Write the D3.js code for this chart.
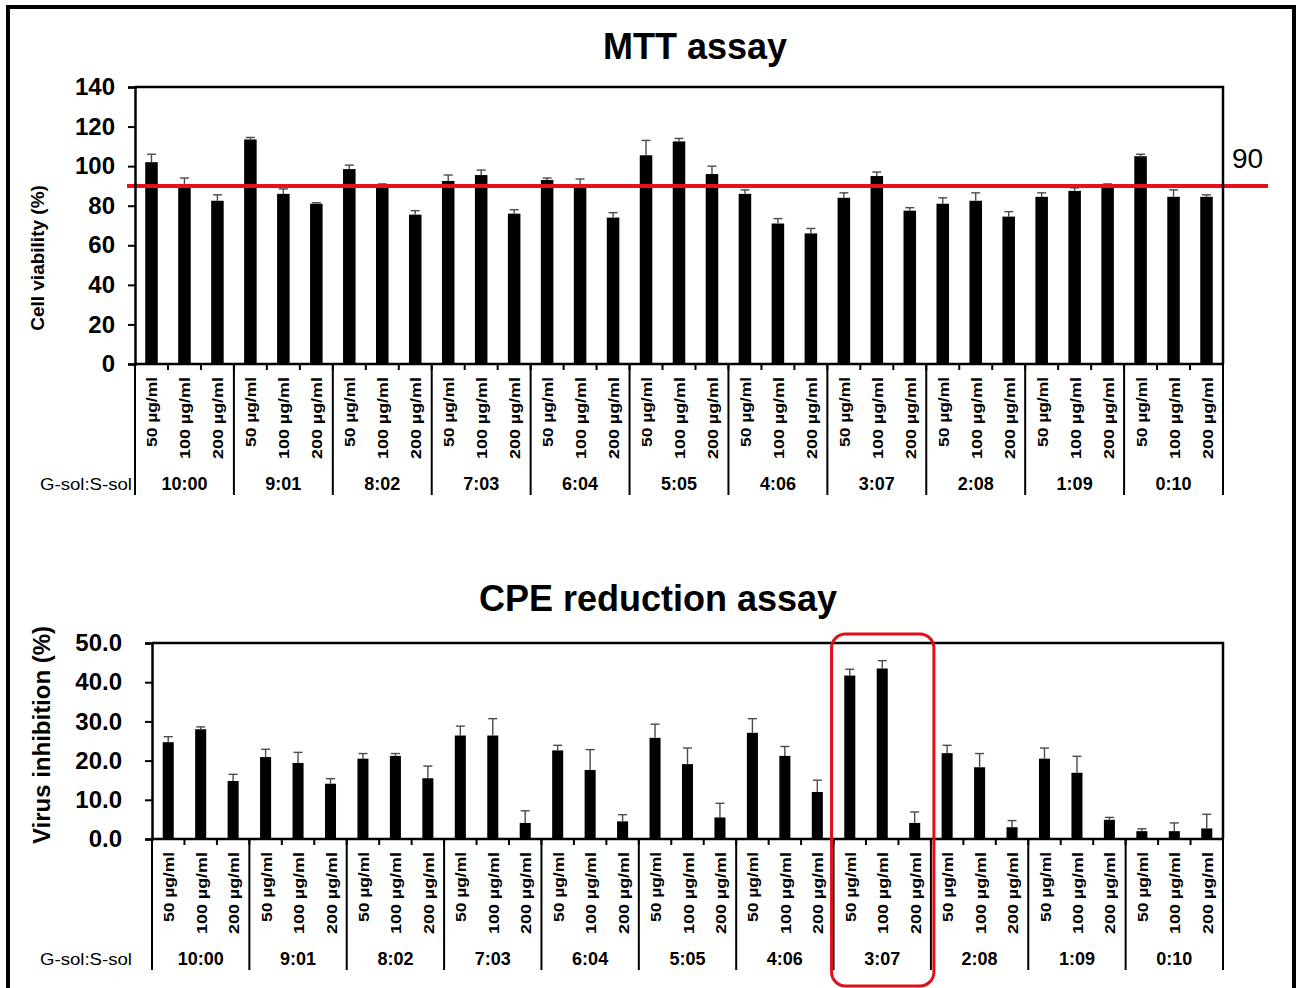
<!DOCTYPE html>
<html>
<head>
<meta charset="utf-8">
<script src="https://cdn.jsdelivr.net/npm/d3@7"></script>
<style>
  html, body { margin: 0; padding: 0; background: #fff; }
  svg { display: block; }
  text { font-family: "Liberation Sans", Arial, sans-serif; fill: #000; }
</style>
</head>
<body>
<svg id="chart" width="1300" height="988"></svg>
<script>
// G-sol : S-sol mixing ratios, three doses each
const ratios = ["10:00", "9:01", "8:02", "7:03", "6:04", "5:05", "4:06", "3:07", "2:08", "1:09", "0:10"];
const doses = ["50 µg/ml", "100 µg/ml", "200 µg/ml"];

// MTT assay: cell viability (%) mean and upper error
const mttMean = [102, 91, 82.5, 113.5, 86, 81, 98.5, 90, 75.5, 92.5, 95.5, 76, 93, 90.5, 74,
                 105.5, 112.5, 96, 86, 71, 66, 84, 95, 77.5, 81, 82.5, 74.5, 84.5, 87.5, 90.5,
                 105, 84.5, 84.5];
const mttErr  = [4, 3, 3, 1, 2.5, 0.5, 2, 1, 2, 3, 2.5, 2, 1, 3, 2.5,
                 7.5, 1.5, 4, 2, 2.5, 2.5, 2.5, 2, 1.5, 3, 4, 2.5, 2, 1.5, 0.5,
                 1, 3.5, 1];
const mttTicks = [0, 20, 40, 60, 80, 100, 120, 140];
const viabilityCutoff = 90;

// CPE reduction assay: virus inhibition (%) mean and upper error
const cpeMean = [24.7, 28.0, 14.8, 20.9, 19.4, 14.1, 20.5, 21.2, 15.5, 26.4, 26.4, 4.1, 22.6, 17.6, 4.5,
                 25.8, 19.1, 5.5, 27.1, 21.2, 12.0, 41.7, 43.5, 4.1, 21.9, 18.3, 3.0, 20.5, 16.9, 4.9,
                 2.0, 2.0, 2.7];
const cpeErr  = [1.4, 0.6, 1.7, 2.0, 2.7, 1.3, 1.3, 0.6, 3.1, 2.4, 4.3, 3.1, 1.3, 5.2, 1.7,
                 3.5, 4.1, 3.6, 3.6, 2.4, 3.0, 1.6, 2.0, 2.8, 2.0, 3.5, 1.7, 2.7, 4.2, 0.6,
                 0.6, 2.1, 3.6];
const cpeTicks = [0, 10, 20, 30, 40, 50];
const highlightRatio = "3:07";

const svg = d3.select("#chart");

// outer frame
svg.append("rect")
  .attr("x", 8).attr("y", 7).attr("width", 1286).attr("height", 1010)
  .attr("fill", "none").attr("stroke", "#000").attr("stroke-width", 4);

function drawPanel(p) {
  const g = svg.append("g");
  const cats = d3.range(p.mean.length);
  const x = d3.scaleBand().domain(cats).range([p.x0, p.x1])
    .paddingInner(p.pad).paddingOuter(p.pad / 2);
  const step = x.step();
  const y = d3.scaleLinear().domain(p.domain).range([p.yBase, p.yTop]);

  // title
  g.append("text")
    .attr("x", p.titleX).attr("y", p.titleY)
    .attr("text-anchor", "middle")
    .attr("font-size", 36).attr("font-weight", "bold")
    .text(p.title);

  // y axis title
  g.append("text")
    .attr("transform", `translate(${p.yTitleX},${p.yTitleY}) rotate(-90)`)
    .attr("text-anchor", "middle").attr("dominant-baseline", "central")
    .attr("font-size", p.yTitleSize).attr("font-weight", "bold")
    .text(p.yTitle);

  // bars
  g.append("g").selectAll("rect").data(cats).join("rect")
    .attr("x", i => x(i))
    .attr("y", i => y(p.mean[i]))
    .attr("width", x.bandwidth())
    .attr("height", i => p.yBase - y(p.mean[i]))
    .attr("fill", "#000");

  // upper error bars
  const eb = g.append("g").attr("stroke", "#4a4a4a").attr("stroke-width", 1.4);
  cats.forEach(i => {
    const cx = x(i) + x.bandwidth() / 2;
    const yt = y(p.mean[i] + p.err[i]);
    eb.append("line").attr("x1", cx).attr("x2", cx).attr("y1", y(p.mean[i])).attr("y2", yt);
    eb.append("line").attr("x1", cx - 4.5).attr("x2", cx + 4.5).attr("y1", yt).attr("y2", yt);
  });

  // threshold line
  if (p.cutoff !== undefined) {
    const yc = y(p.cutoff);
    g.append("line")
      .attr("x1", p.x0 - 8).attr("x2", p.x1 + 45)
      .attr("y1", yc).attr("y2", yc)
      .attr("stroke", "#e8101a").attr("stroke-width", 4);
    g.append("text")
      .attr("x", p.x1 + 9).attr("y", yc - 18)
      .attr("font-size", 28)
      .text(p.cutoff);
  }

  // plot frame (top and right borders)
  g.append("path")
    .attr("d", `M${p.x0},${p.yTop}H${p.x1}V${p.yBase}`)
    .attr("fill", "none").attr("stroke", "#000").attr("stroke-width", 2.5);

  // y axis
  const ya = g.append("g").attr("transform", `translate(${p.x0},0)`)
    .call(d3.axisLeft(y).tickValues(p.ticks).tickSize(7).tickPadding(p.tickPad)
      .tickFormat(p.fmt));
  ya.select(".domain").attr("stroke-width", 2.5);
  ya.selectAll(".tick line").attr("stroke-width", 2);
  ya.selectAll(".tick text")
    .attr("font-family", "Liberation Sans, Arial, sans-serif")
    .attr("font-size", 24).attr("font-weight", "bold").attr("fill", "#000");

  // category axis line
  g.append("line")
    .attr("x1", p.x0).attr("x2", p.x1).attr("y1", p.yBase).attr("y2", p.yBase)
    .attr("stroke", "#000").attr("stroke-width", 2.5);

  // tick marks at category boundaries
  g.append("g").selectAll("line").data(d3.range(p.mean.length + 1)).join("line")
    .attr("x1", i => p.x0 + i * step).attr("x2", i => p.x0 + i * step)
    .attr("y1", p.yBase).attr("y2", p.yBase + 6)
    .attr("stroke", "#000").attr("stroke-width", 2);

  // group separators
  g.append("g").selectAll("line").data(d3.range(ratios.length + 1)).join("line")
    .attr("x1", k => p.x0 + k * doses.length * step).attr("x2", k => p.x0 + k * doses.length * step)
    .attr("y1", p.yBase).attr("y2", p.yBase + 131)
    .attr("stroke", "#000").attr("stroke-width", 2);

  // dose labels (rotated)
  g.append("g").selectAll("text").data(cats).join("text")
    .attr("transform", i => `translate(${x(i) + x.bandwidth() / 2 + 1},${p.yBase + 13}) rotate(-90)`)
    .attr("text-anchor", "end").attr("dominant-baseline", "central")
    .attr("font-size", 14.5).attr("font-weight", "bold")
    .attr("textLength", i => (i % 3 === 0 ? 70 : 82))
    .attr("lengthAdjust", "spacingAndGlyphs")
    .text(i => doses[i % 3]);

  // ratio labels
  g.append("g").selectAll("text").data(ratios).join("text")
    .attr("x", (r, k) => p.x0 + (k + 0.5) * doses.length * step)
    .attr("y", p.yBase + 126)
    .attr("text-anchor", "middle")
    .attr("font-size", 18).attr("font-weight", "bold")
    .text(r => r);

  g.append("text")
    .attr("x", 40).attr("y", p.yBase + 126)
    .attr("font-size", 16)
    .attr("textLength", 92).attr("lengthAdjust", "spacingAndGlyphs")
    .text("G-sol:S-sol");

  // highlighted ratio group
  if (p.highlight) {
    const k = ratios.indexOf(p.highlight);
    const gx0 = p.x0 + k * doses.length * step;
    const gx1 = gx0 + doses.length * step;
    g.append("rect")
      .attr("x", gx0 - 2).attr("y", p.yTop - 9)
      .attr("width", gx1 - gx0 + 5).attr("height", 986 - (p.yTop - 9))
      .attr("rx", 14).attr("ry", 14)
      .attr("fill", "none").attr("stroke", "#e0101a").attr("stroke-width", 3);
  }
}

drawPanel({
  title: "MTT assay", titleX: 695, titleY: 59,
  yTitle: "Cell viability (%)", yTitleX: 37, yTitleY: 258, yTitleSize: 19,
  mean: mttMean, err: mttErr,
  domain: [0, 140], ticks: mttTicks, fmt: d3.format("d"), tickPad: 13,
  x0: 135, x1: 1223, yTop: 87, yBase: 364, pad: 0.62,
  cutoff: viabilityCutoff
});

drawPanel({
  title: "CPE reduction assay", titleX: 658, titleY: 611,
  yTitle: "Virus inhibition (%)", yTitleX: 41, yTitleY: 735, yTitleSize: 24,
  mean: cpeMean, err: cpeErr,
  domain: [0, 50], ticks: cpeTicks, fmt: d3.format(".1f"), tickPad: 23,
  x0: 152, x1: 1223, yTop: 643, yBase: 839, pad: 0.66,
  highlight: highlightRatio
});
</script>
</body>
</html>
